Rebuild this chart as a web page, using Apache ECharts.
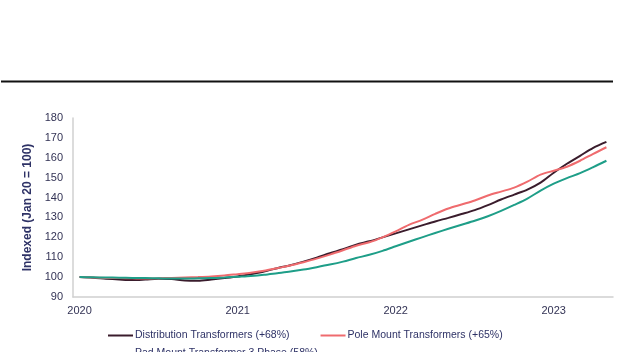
<!DOCTYPE html>
<html>
<head>
<meta charset="utf-8">
<script src="https://cdn.jsdelivr.net/npm/echarts@6/dist/echarts.min.js"></script>
<style>
  html, body { margin: 0; padding: 0; background: #fff; }
  #chart { width: 640px; height: 352px; }
</style>
</head>
<body>
<div id="chart"></div>
<script>
// monthly index, Jan 2020 .. May 2023 (Jan 20 = 100)
var months = [];
for (var y = 2020; y <= 2023; y++) {
  for (var m = 1; m <= 12; m++) {
    if (y === 2023 && m > 5) break;
    months.push(y + '-' + (m < 10 ? '0' + m : m));
  }
}

var distribution = [100, 99.7, 99.2, 98.8, 98.5, 98.8, 99.2, 99.0, 98.3, 98.2,
  98.8, 99.5, 100.3, 101.5, 102.8, 104.5, 106.0, 107.8, 109.8, 112.0,
  114.0, 116.3, 118.0, 120.0, 122.0, 124.0, 126.0, 128.0, 129.8, 131.7,
  133.7, 136.2, 139.0, 141.5, 144.0, 147.5, 152.5, 157.0, 161.0, 165.0, 168.0];

var poleMount = [100, 99.8, 99.6, 99.5, 99.4, 99.3, 99.4, 99.6, 99.8, 100.0,
  100.3, 100.8, 101.5, 102.2, 103.2, 104.5, 105.8, 107.5, 109.3, 111.3,
  113.5, 115.8, 117.5, 120.0, 123.0, 126.3, 128.8, 131.8, 134.5, 136.5,
  138.5, 141.0, 143.0, 145.0, 148.0, 151.5, 153.5, 155.5, 158.5, 162.0, 165.3];

var padMount = [100, 99.9, 99.8, 99.7, 99.6, 99.5, 99.4, 99.3, 99.3, 99.4,
  99.5, 99.8, 100.2, 100.6, 101.2, 102.0, 102.8, 103.8, 105.0, 106.3,
  107.8, 109.6, 111.2, 113.2, 115.5, 117.8, 120.0, 122.2, 124.3, 126.3,
  128.3, 130.6, 133.3, 136.3, 139.5, 143.5, 147.0, 149.8, 152.3, 155.3, 158.5];

var names = ['Distribution Transformers (+68%)', 'Pole Mount Transformers (+65%)', 'Pad Mount Transformer 3 Phase (58%)'];

var chart = echarts.init(document.getElementById('chart'));

var legendBase = {
  itemWidth: 25, itemHeight: 2, itemGap: 31,
  icon: 'rect',
  textStyle: { fontSize: 10.5, color: '#2e3266', padding: [0, 0, 0, -3] }
};

var option = {
  backgroundColor: '#fff',
  animation: false,
  textStyle: { fontFamily: 'Liberation Sans, Arial, sans-serif' },
  graphic: [{
    type: 'line',
    shape: { x1: 1, y1: 81.5, x2: 613, y2: 81.5 },
    style: { stroke: '#111', lineWidth: 2 }
  }],
  grid: { left: 73, right: 27, top: 118, bottom: 55 },
  legend: [
    Object.assign({ left: 103, top: 325, data: [names[0], names[1]] }, legendBase),
    Object.assign({ left: 103, top: 343, data: [names[2]] }, legendBase)
  ],
  xAxis: {
    type: 'category',
    data: months,
    boundaryGap: true,
    axisLine: { lineStyle: { color: '#d0d0d0', width: 1.5 } },
    axisTick: { show: false },
    axisLabel: {
      color: '#333355', fontSize: 11, margin: 8,
      interval: function (i, v) { return v.slice(5) === '01'; },
      formatter: function (v) { return v.slice(0, 4); }
    }
  },
  yAxis: {
    type: 'value',
    min: 90, max: 180, interval: 10,
    name: 'Indexed (Jan 20 = 100)',
    nameLocation: 'middle',
    nameGap: 35,
    nameRotate: 90,
    nameTextStyle: { color: '#2e3266', fontWeight: 'bold', fontSize: 12 },
    axisLine: { show: true, lineStyle: { color: '#d0d0d0', width: 1.5 } },
    axisTick: { show: false },
    splitLine: { show: false },
    axisLabel: { color: '#333355', fontSize: 11, margin: 10 }
  },
  series: [
    {
      name: names[0],
      type: 'line', data: distribution, smooth: 0.3,
      showSymbol: false,
      lineStyle: { color: '#3a1c2c', width: 2 },
      itemStyle: { color: '#3a1c2c' }
    },
    {
      name: names[1],
      type: 'line', data: poleMount, smooth: 0.3,
      showSymbol: false,
      lineStyle: { color: '#ef6b6e', width: 2 },
      itemStyle: { color: '#ef6b6e' }
    },
    {
      name: names[2],
      type: 'line', data: padMount, smooth: 0.3,
      showSymbol: false,
      lineStyle: { color: '#1e9e88', width: 2 },
      itemStyle: { color: '#1e9e88' }
    }
  ]
};

if (option && typeof option === 'object') {
  chart.setOption(option);
}
</script>
</body>
</html>
